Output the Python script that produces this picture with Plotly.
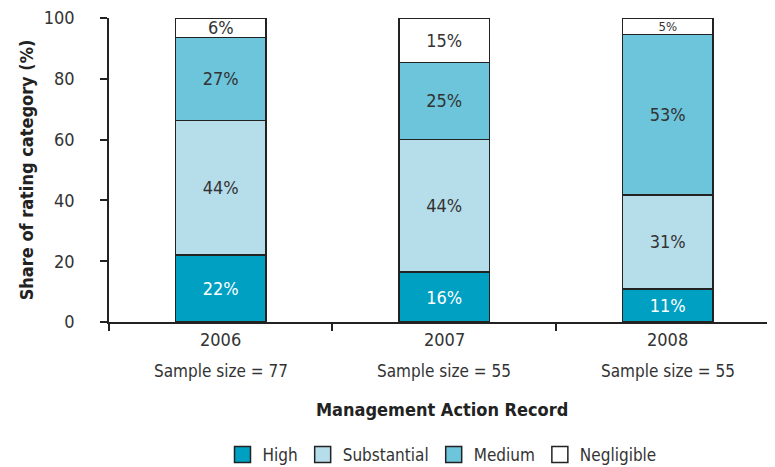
import plotly.graph_objects as go

years = ["2006", "2007", "2008"]
sample_sizes = [77, 55, 55]
series_names = ["High", "Substantial", "Medium", "Negligible"]
high = [22.1, 16.4, 10.9]
substantial = [44.2, 43.6, 30.9]
medium = [27.3, 25.4, 52.8]
negligible = [6.4, 14.6, 5.4]

values = [high, substantial, medium, negligible]
colors = ["#00A0C3", "#B6DDEA", "#6CC5DB", "#FFFFFF"]
text_colors = ["#FFFFFF", "#333333", "#333333", "#333333"]

FONT = "DejaVu Sans Condensed, Liberation Sans Narrow, Roboto, Arial"
x_pos = list(range(len(years)))

fig = go.Figure()
for name, vals, col, tcol in zip(series_names, values, colors, text_colors):
    sizes = [18 if v >= 6 else 13 for v in vals]
    fig.add_trace(go.Bar(
        x=x_pos, y=vals, name=name, width=0.403,
        marker=dict(color=col, line=dict(color="#222222", width=1.5)),
        text=[f"{round(v):d}%" for v in vals],
        textposition="inside", insidetextanchor="middle", textangle=0,
        textfont=dict(family=FONT, size=sizes, color=tcol),
        constraintext="none",
        showlegend=False, hoverinfo="skip",
    ))
    # legend entry with larger square symbol
    fig.add_trace(go.Scatter(
        x=[None], y=[None], mode="markers", name=name,
        marker=dict(symbol="square", size=16, color=col,
                    line=dict(color="#222222", width=1.5)),
        showlegend=True,
    ))

# page body has an 8px margin: size the figure so the plot lands where the reference has it
fig.update_layout(
    barmode="stack",
    width=767, height=459,
    margin=dict(l=101, r=0, t=10, b=145, autoexpand=False),
    paper_bgcolor="white", plot_bgcolor="white",
    font=dict(family=FONT, size=17, color="#333333"),
    xaxis=dict(
        range=[-0.5, 2.48],
        tickvals=[-0.5, 0.5, 1.5, 2.5],
        showticklabels=False,
        ticks="outside", ticklen=7, tickwidth=1.5, tickcolor="#222222",
        showline=True, linecolor="#222222", linewidth=1.5,
        showgrid=False, zeroline=False, fixedrange=True, automargin=False,
    ),
    yaxis=dict(
        range=[0, 100], dtick=20,
        ticks="outside", ticklen=7, tickwidth=1.5, tickcolor="#222222",
        showline=True, linecolor="#222222", linewidth=1.5,
        showgrid=False, zeroline=False, automargin=False,
        tickfont=dict(family=FONT, size=18, color="#333333"),
        ticklabelstandoff=22, ticklabeloverflow="allow",
        title=dict(text="<b>Share of rating category (%)</b>",
                   font=dict(family=FONT, size=18, color="#222222"),
                   standoff=5),
    ),
    legend=dict(
        orientation="h", x=0.5, xanchor="center", y=-0.4375, yanchor="middle",
        font=dict(family=FONT, size=17, color="#333333"),
        traceorder="normal",
    ),
)

for xp, yr, n in zip(x_pos, years, sample_sizes):
    fig.add_annotation(x=xp, y=-0.059, xref="x", yref="paper", text=yr,
                       showarrow=False, yanchor="middle",
                       font=dict(family=FONT, size=18, color="#333333"))
    fig.add_annotation(x=xp, y=-0.161, xref="x", yref="paper",
                       text=f"Sample size = {n}",
                       showarrow=False, yanchor="middle",
                       font=dict(family=FONT, size=17, color="#333333"))

fig.add_annotation(x=0.5, y=-0.289, xref="paper", yref="paper",
                   text="<b>Management Action Record</b>", showarrow=False,
                   yanchor="middle",
                   font=dict(family=FONT, size=18, color="#222222"))

fig.write_html("out.html")
